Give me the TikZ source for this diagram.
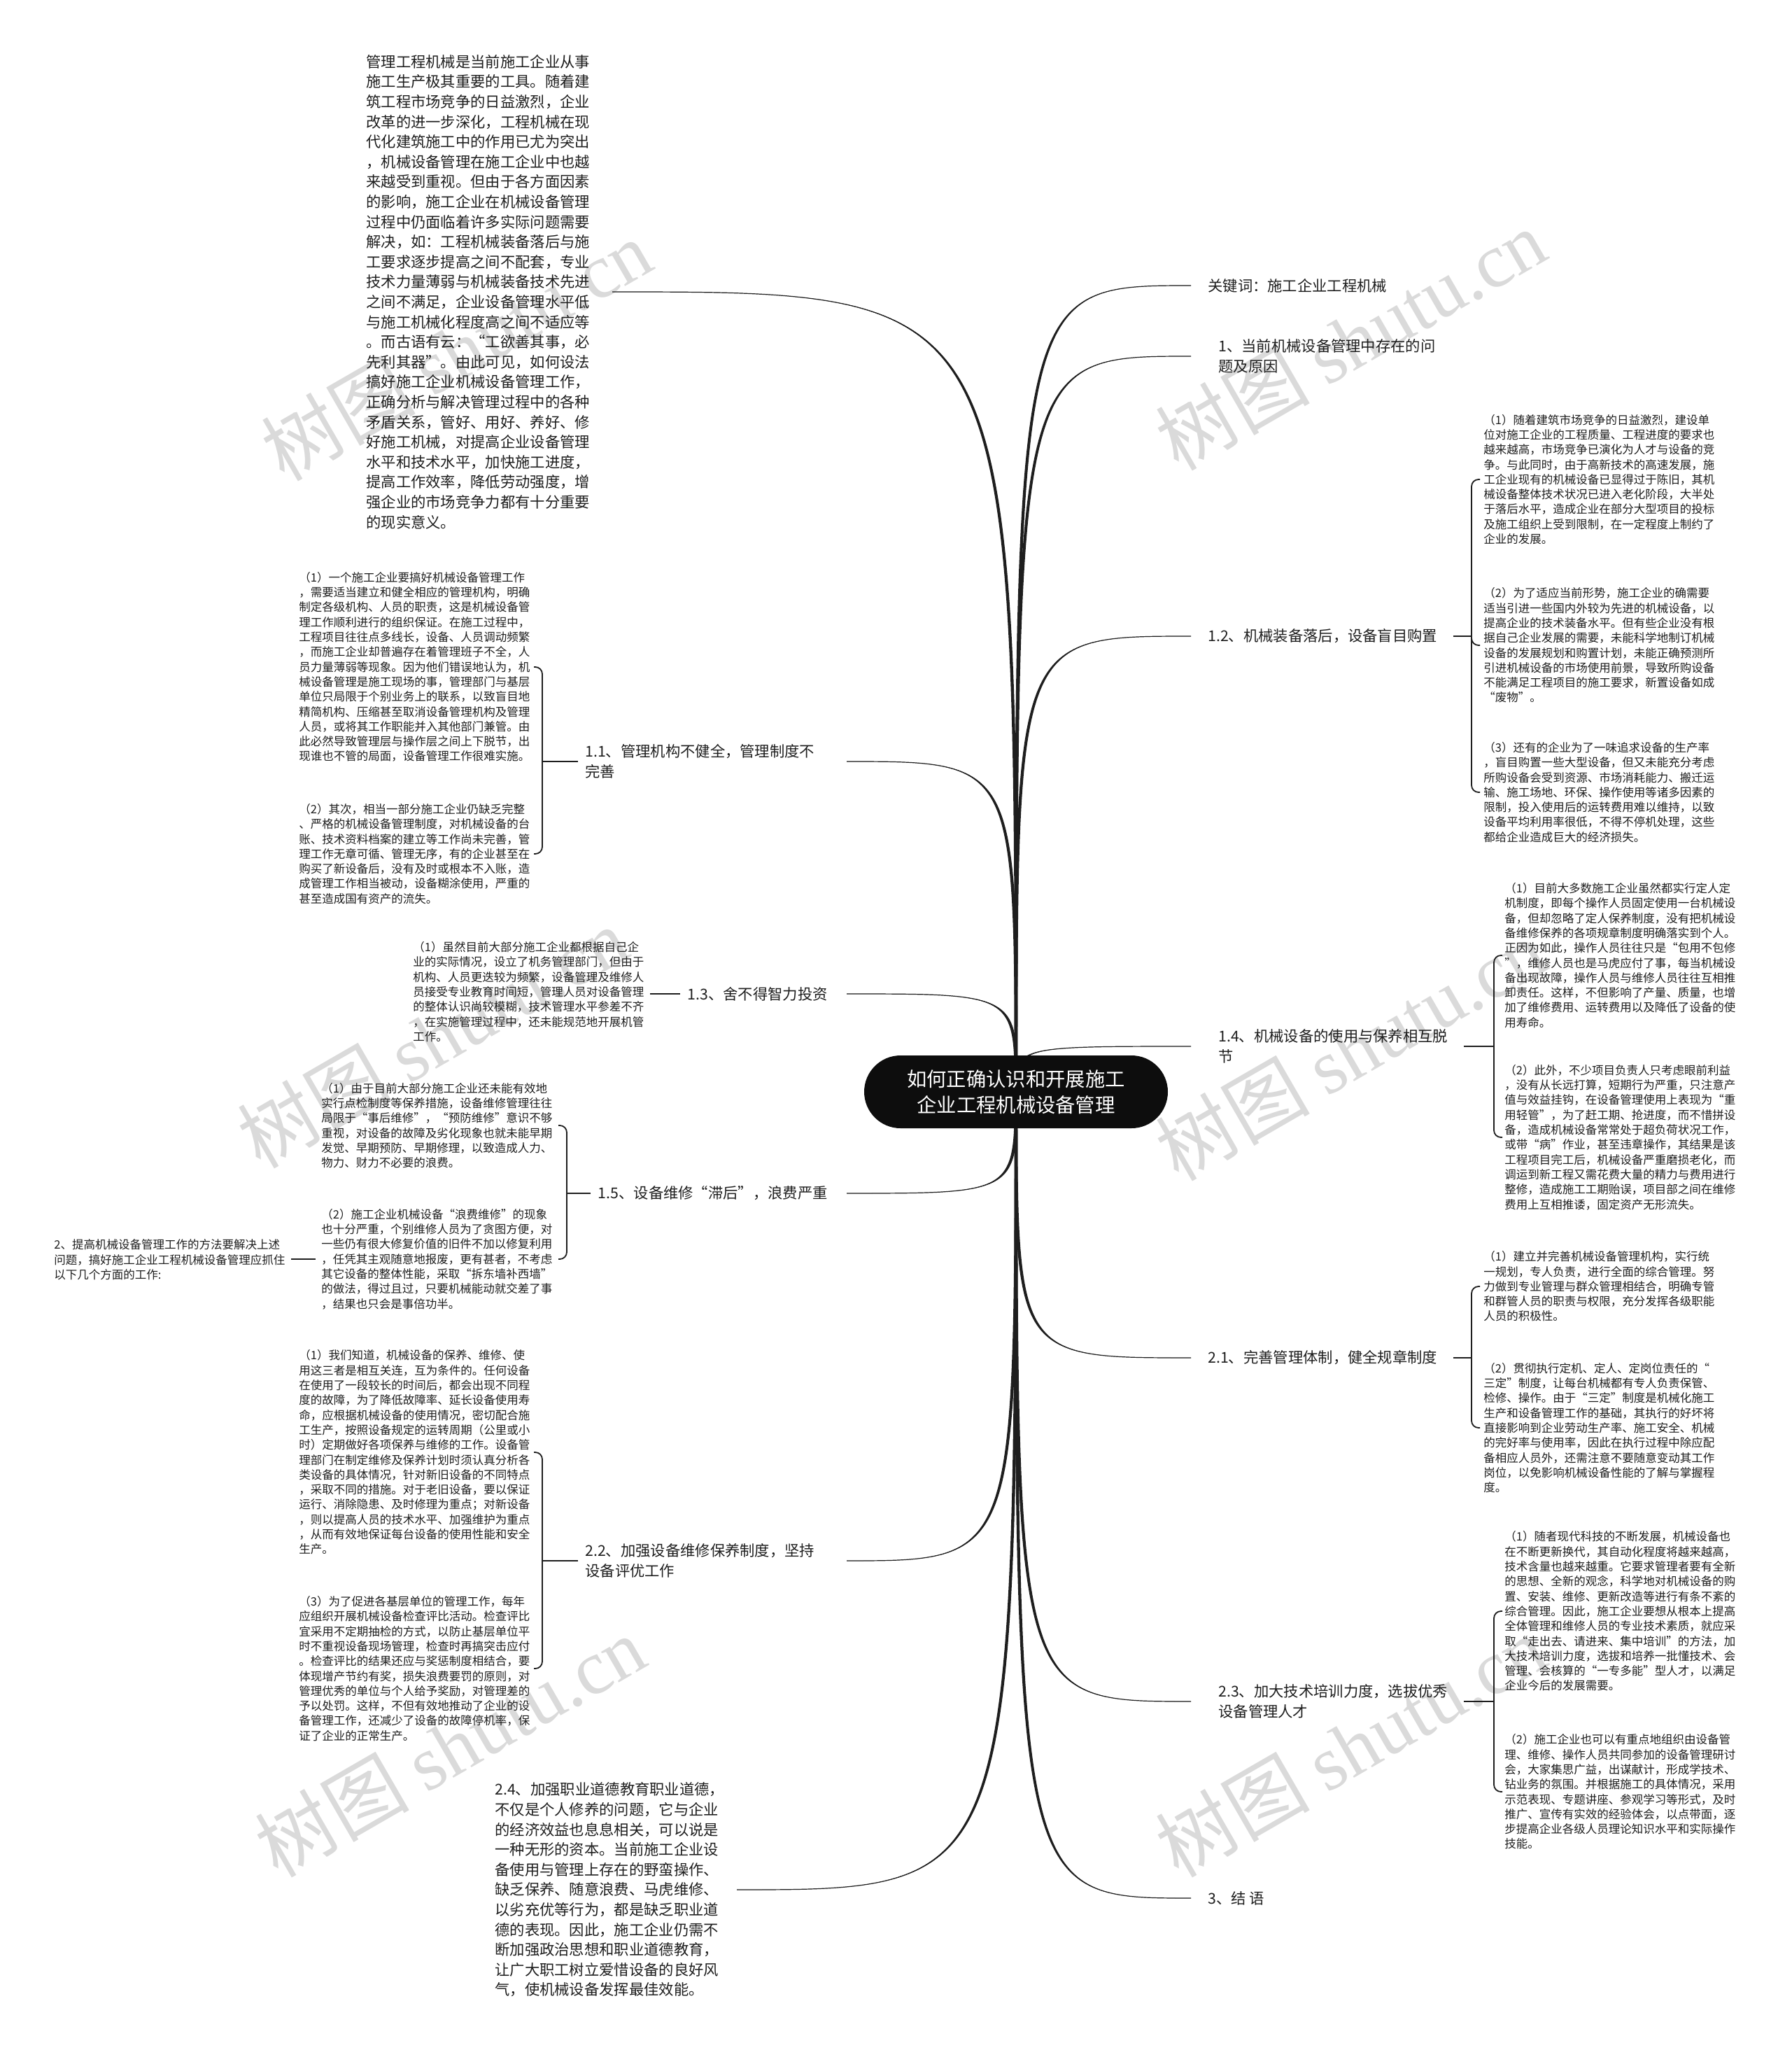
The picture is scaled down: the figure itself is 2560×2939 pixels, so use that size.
\documentclass[tikz,border=0pt]{standalone}
\usepackage{fontspec}
\setmainfont{Noto Sans CJK SC}
\newfontfamily\wmlatin{Liberation Serif}
\usetikzlibrary{calc, positioning}
\definecolor{ink}{RGB}{30,30,30}
\definecolor{wmgray}{RGB}{218,218,218}

% tapered connector from the hub to a branch end
\newcommand\limb[2]{%
  \fill[ink] let \p1=(#1), \p2=(#2) in
    (\x1-1.1pt,\y1) .. controls (\x1-1.1pt,\y2) and (\x1-1.1pt,\y2) .. (\x2,\y2)
    .. controls (\x1+1.1pt,\y2) and (\x1+1.1pt,\y2) .. (\x1+1.1pt,\y1) -- cycle;
  \draw[ink, line width=0.6pt] let \p1=(#1), \p2=(#2) in
    (\p1) .. controls (\x1,\y2) and (\x1,\y2) .. (\p2);
}

\begin{document}
\begin{tikzpicture}[x=0.5pt, y=-0.5pt,
    para/.style={font=\fontsize{10.65}{14.3}\selectfont, text=ink, align=left, inner sep=0pt, anchor=west},
    twig/.style={para},
    leaf/.style={font=\fontsize{8.25}{10.65}\selectfont, text=ink, align=left, inner sep=0pt, anchor=west},
    hubnode/.style={fill=black!95, text=white, rounded corners=26pt, minimum width=217pt, minimum height=52pt, align=center, inner sep=0pt, font=\fontsize{14.15}{18.3}\selectfont},
    brace/.style={draw=ink, line width=0.9pt, rounded corners=5pt},
    wmark/.style={text=wmgray, rotate=30, inner sep=0pt, font=\fontsize{55}{55}\selectfont}
]
    % Canvas
    \useasboundingbox[fill=white] (0,0) rectangle (2560,2939);

    % Watermarks
    \foreach \wx/\wy in {652/500, 1930/485, 618/1482, 1930/1500, 643/2495, 1930/2495} {
        \node[wmark] (wm-\wx-\wy) at (\wx,\wy) {树图 {\wmlatin shutu.cn}};
    }

    % Hub and branch ends
    \coordinate (hub) at (1452,1560);
    \coordinate (e-top) at (875,417);
    \coordinate (e-kw) at (1702,408);
    \coordinate (e-1) at (1702,509);
    \coordinate (e-12) at (1702,909);
    \coordinate (e-11) at (1210,1088);
    \coordinate (e-13) at (1210,1420);
    \coordinate (e-14) at (1702,1495);
    \coordinate (e-15) at (1210,1705);
    \coordinate (e-21) at (1702,1940);
    \coordinate (e-22) at (1210,2230);
    \coordinate (e-23) at (1702,2431);
    \coordinate (e-24) at (1053,2700);
    \coordinate (e-3) at (1702,2712);

    % Main connectors
    \foreach \e in {e-top,e-kw,e-1,e-12,e-11,e-13,e-14,e-15,e-21,e-22,e-23,e-24,e-3} {
        \limb{hub}{\e}
    }

    % Central topic
    \node[hubnode] (root) at (hub) {如何正确认识和开展施工\\企业工程机械设备管理};

    % Intro paragraph
    \node[para] (intro) at (523,417) {管理工程机械是当前施工企业从事\\
施工生产极其重要的工具。随着建\\
筑工程市场竞争的日益激烈，企业\\
改革的进一步深化，工程机械在现\\
代化建筑施工中的作用已尤为突出\\
，机械设备管理在施工企业中也越\\
来越受到重视。但由于各方面因素\\
的影响，施工企业在机械设备管理\\
过程中仍面临着许多实际问题需要\\
解决，如：工程机械装备落后与施\\
工要求逐步提高之间不配套，专业\\
技术力量薄弱与机械装备技术先进\\
之间不满足，企业设备管理水平低\\
与施工机械化程度高之间不适应等\\
。而古语有云：“工欲善其事，必\\
先利其器”。由此可见，如何设法\\
搞好施工企业机械设备管理工作，\\
正确分析与解决管理过程中的各种\\
矛盾关系，管好、用好、养好、修\\
好施工机械，对提高企业设备管理\\
水平和技术水平，加快施工进度，\\
提高工作效率，降低劳动强度，增\\
强企业的市场竞争力都有十分重要\\
的现实意义。};

    % Right branches
    \node[twig] (kw) at (1726,408) {关键词：施工企业工程机械};
    \node[twig] (l1) at (1741,509) {1、当前机械设备管理中存在的问\\题及原因};
    \node[twig] (l12) at (1726,909) {1.2、机械装备落后，设备盲目购置};
    \node[twig] (l14) at (1741,1495) {1.4、机械设备的使用与保养相互脱\\节};
    \node[twig] (l21) at (1726,1940) {2.1、完善管理体制，健全规章制度};
    \node[twig] (l23) at (1741,2431) {2.3、加大技术培训力度，选拔优秀\\设备管理人才};
    \node[twig] (l3) at (1726,2712) {3、结 语};

    % Left branches
    \node[twig] (l11) at (836,1088) {1.1、管理机构不健全，管理制度不\\完善};
    \node[twig, anchor=east] (l13) at (1183,1420) {1.3、舍不得智力投资};
    \node[twig, anchor=east] (l15) at (1183,1705) {1.5、设备维修“滞后”，浪费严重};
    \node[twig] (l22) at (836,2230) {2.2、加强设备维修保养制度，坚持\\设备评优工作};
    \node[para] (l24) at (707,2700) {2.4、加强职业道德教育职业道德，\\
不仅是个人修养的问题，它与企业\\
的经济效益也息息相关，可以说是\\
一种无形的资本。当前施工企业设\\
备使用与管理上存在的野蛮操作、\\
缺乏保养、随意浪费、马虎维修、\\
以劣充优等行为，都是缺乏职业道\\
德的表现。因此，施工企业仍需不\\
断加强政治思想和职业道德教育，\\
让广大职工树立爱惜设备的良好风\\
气，使机械设备发挥最佳效能。};

    % 1.2 details
    \node[leaf] (c12a) at (2120,685) {（1）随着建筑市场竞争的日益激烈，建设单\\
位对施工企业的工程质量、工程进度的要求也\\
越来越高，市场竞争已演化为人才与设备的竞\\
争。与此同时，由于高新技术的高速发展，施\\
工企业现有的机械设备已显得过于陈旧，其机\\
械设备整体技术状况已进入老化阶段，大半处\\
于落后水平，造成企业在部分大型项目的投标\\
及施工组织上受到限制，在一定程度上制约了\\
企业的发展。};
    \node[leaf] (c12b) at (2120,922) {（2）为了适应当前形势，施工企业的确需要\\
适当引进一些国内外较为先进的机械设备，以\\
提高企业的技术装备水平。但有些企业没有根\\
据自己企业发展的需要，未能科学地制订机械\\
设备的发展规划和购置计划，未能正确预测所\\
引进机械设备的市场使用前景，导致所购设备\\
不能满足工程项目的施工要求，新置设备如成\\
“废物”。};
    \node[leaf] (c12c) at (2120,1132) {（3）还有的企业为了一味追求设备的生产率\\
，盲目购置一些大型设备，但又未能充分考虑\\
所购设备会受到资源、市场消耗能力、搬迁运\\
输、施工场地、环保、操作使用等诸多因素的\\
限制，投入使用后的运转费用难以维持，以致\\
设备平均利用率很低，不得不停机处理，这些\\
都给企业造成巨大的经济损失。};

    % 1.4 details
    \node[leaf] (c14a) at (2150,1365) {（1）目前大多数施工企业虽然都实行定人定\\
机制度，即每个操作人员固定使用一台机械设\\
备，但却忽略了定人保养制度，没有把机械设\\
备维修保养的各项规章制度明确落实到个人。\\
正因为如此，操作人员往往只是“包用不包修\\
”，维修人员也是马虎应付了事，每当机械设\\
备出现故障，操作人员与维修人员往往互相推\\
卸责任。这样，不但影响了产量、质量，也增\\
加了维修费用、运转费用以及降低了设备的使\\
用寿命。};
    \node[leaf] (c14b) at (2150,1625) {（2）此外，不少项目负责人只考虑眼前利益\\
，没有从长远打算，短期行为严重，只注意产\\
值与效益挂钩，在设备管理使用上表现为“重\\
用轻管”，为了赶工期、抢进度，而不惜拼设\\
备，造成机械设备常常处于超负荷状况工作，\\
或带“病”作业，甚至违章操作，其结果是该\\
工程项目完工后，机械设备严重磨损老化，而\\
调运到新工程又需花费大量的精力与费用进行\\
整修，造成施工工期贻误，项目部之间在维修\\
费用上互相推诿，固定资产无形流失。};

    % 2.1 details
    \node[leaf] (c21a) at (2120,1838) {（1）建立并完善机械设备管理机构，实行统\\
一规划，专人负责，进行全面的综合管理。努\\
力做到专业管理与群众管理相结合，明确专管\\
和群管人员的职责与权限，充分发挥各级职能\\
人员的积极性。};
    \node[leaf] (c21b) at (2120,2040) {（2）贯彻执行定机、定人、定岗位责任的“\\
三定”制度，让每台机械都有专人负责保管、\\
检修、操作。由于“三定”制度是机械化施工\\
生产和设备管理工作的基础，其执行的好坏将\\
直接影响到企业劳动生产率、施工安全、机械\\
的完好率与使用率，因此在执行过程中除应配\\
备相应人员外，还需注意不要随意变动其工作\\
岗位，以免影响机械设备性能的了解与掌握程\\
度。};

    % 2.3 details
    \node[leaf] (c23a) at (2150,2302) {（1）随者现代科技的不断发展，机械设备也\\
在不断更新换代，其自动化程度将越来越高，\\
技术含量也越来越重。它要求管理者要有全新\\
的思想、全新的观念，科学地对机械设备的购\\
置、安装、维修、更新改造等进行有条不紊的\\
综合管理。因此，施工企业要想从根本上提高\\
全体管理和维修人员的专业技术素质，就应采\\
取“走出去、请进来、集中培训”的方法，加\\
大技术培训力度，选拔和培养一批懂技术、会\\
管理、会核算的“一专多能”型人才，以满足\\
企业今后的发展需要。};
    \node[leaf] (c23b) at (2150,2560) {（2）施工企业也可以有重点地组织由设备管\\
理、维修、操作人员共同参加的设备管理研讨\\
会，大家集思广益，出谋献计，形成学技术、\\
钻业务的氛围。并根据施工的具体情况，采用\\
示范表现、专题讲座、参观学习等形式，及时\\
推广、宣传有实效的经验体会，以点带面，逐\\
步提高企业各级人员理论知识水平和实际操作\\
技能。};

    % 1.1 details
    \node[leaf] (c11a) at (427,953) {（1）一个施工企业要搞好机械设备管理工作\\
，需要适当建立和健全相应的管理机构，明确\\
制定各级机构、人员的职责，这是机械设备管\\
理工作顺利进行的组织保证。在施工过程中，\\
工程项目往往点多线长，设备、人员调动频繁\\
，而施工企业却普遍存在着管理班子不全，人\\
员力量薄弱等现象。因为他们错误地认为，机\\
械设备管理是施工现场的事，管理部门与基层\\
单位只局限于个别业务上的联系，以致盲目地\\
精简机构、压缩甚至取消设备管理机构及管理\\
人员，或将其工作职能并入其他部门兼管。由\\
此必然导致管理层与操作层之间上下脱节，出\\
现谁也不管的局面，设备管理工作很难实施。};
    \node[leaf] (c11b) at (427,1220) {（2）其次，相当一部分施工企业仍缺乏完整\\
、严格的机械设备管理制度，对机械设备的台\\
账、技术资料档案的建立等工作尚未完善，管\\
理工作无章可循、管理无序，有的企业甚至在\\
购买了新设备后，没有及时或根本不入账，造\\
成管理工作相当被动，设备糊涂使用，严重的\\
甚至造成国有资产的流失。};

    % 1.3 detail
    \node[leaf] (c13a) at (590,1417) {（1）虽然目前大部分施工企业都根据自己企\\
业的实际情况，设立了机务管理部门，但由于\\
机构、人员更迭较为频繁，设备管理及维修人\\
员接受专业教育时间短，管理人员对设备管理\\
的整体认识尚较模糊，技术管理水平参差不齐\\
，在实施管理过程中，还未能规范地开展机管\\
工作。};

    % 1.5 details
    \node[leaf] (c15a) at (459,1608) {（1）由于目前大部分施工企业还未能有效地\\
实行点检制度等保养措施，设备维修管理往往\\
局限于“事后维修”，“预防维修”意识不够\\
重视，对设备的故障及劣化现象也就未能早期\\
发觉、早期预防、早期修理，以致造成人力、\\
物力、财力不必要的浪费。};
    \node[leaf] (c15b) at (459,1799) {（2）施工企业机械设备“浪费维修”的现象\\
也十分严重，个别维修人员为了贪图方便，对\\
一些仍有很大修复价值的旧件不加以修复利用\\
，任凭其主观随意地报废，更有甚者，不考虑\\
其它设备的整体性能，采取“拆东墙补西墙”\\
的做法，得过且过，只要机械能动就交差了事\\
，结果也只会是事倍功半。};
    \node[leaf] (n2) at (77,1800) {2、提高机械设备管理工作的方法要解决上述\\
问题，搞好施工企业工程机械设备管理应抓住\\
以下几个方面的工作:};

    % 2.2 details
    \node[leaf] (c22a) at (427,2075) {（1）我们知道，机械设备的保养、维修、使\\
用这三者是相互关连，互为条件的。任何设备\\
在使用了一段较长的时间后，都会出现不同程\\
度的故障，为了降低故障率、延长设备使用寿\\
命，应根据机械设备的使用情况，密切配合施\\
工生产，按照设备规定的运转周期（公里或小\\
时）定期做好各项保养与维修的工作。设备管\\
理部门在制定维修及保养计划时须认真分析各\\
类设备的具体情况，针对新旧设备的不同特点\\
，采取不同的措施。对于老旧设备，要以保证\\
运行、消除隐患、及时修理为重点；对新设备\\
，则以提高人员的技术水平、加强维护为重点\\
，从而有效地保证每台设备的使用性能和安全\\
生产。};
    \node[leaf] (c22b) at (427,2384) {（3）为了促进各基层单位的管理工作，每年\\
应组织开展机械设备检查评比活动。检查评比\\
宜采用不定期抽检的方式，以防止基层单位平\\
时不重视设备现场管理，检查时再搞突击应付\\
。检查评比的结果还应与奖惩制度相结合，要\\
体现增产节约有奖，损失浪费要罚的原则，对\\
管理优秀的单位与个人给予奖励，对管理差的\\
予以处罚。这样，不但有效地推动了企业的设\\
备管理工作，还减少了设备的故障停机率，保\\
证了企业的正常生产。};

    % Brace joints
    \coordinate (b12) at (2103,909);
    \coordinate (b14) at (2135,1495);
    \coordinate (b21) at (2103,1940);
    \coordinate (b23) at (2135,2431);
    \coordinate (b11) at (775,1088);
    \coordinate (b15) at (810,1705);
    \coordinate (b22) at (775,2230);

    % Right braces
    \foreach \l/\b in {l12/b12, l14/b14, l21/b21, l23/b23} {
        \draw[brace] ($(\l.east)+(22,0)$) -- (\b);
    }
    \foreach \c in {c12a,c12b,c12c} \draw[brace] (b12) |- ($(\c.west -| b12)+(12,0)$);
    \foreach \c in {c14a,c14b} \draw[brace] (b14) |- ($(\c.west -| b14)+(12,0)$);
    \foreach \c in {c21a,c21b} \draw[brace] (b21) |- ($(\c.west -| b21)+(12,0)$);
    \foreach \c in {c23a,c23b} \draw[brace] (b23) |- ($(\c.west -| b23)+(12,0)$);

    % Left braces
    \foreach \l/\b in {l11/b11, l15/b15, l22/b22} {
        \draw[brace] ($(\l.west)+(-10,0)$) -- (\b);
    }
    \foreach \c in {c11a,c11b} \draw[brace] (b11) |- ($(\c.west -| b11)+(-12,0)$);
    \foreach \c in {c15a,c15b} \draw[brace] (b15) |- ($(\c.west -| b15)+(-12,0)$);
    \foreach \c in {c22a,c22b} \draw[brace] (b22) |- ($(\c.west -| b22)+(-12,0)$);

    % Single links
    \draw[brace] ($(l13.west)+(-10,0)$) -- ($(l13.west -| c13a.east)+(8,0)$);
    \draw[brace] ($(c15b.west)+(-8,0)$) -- ($(c15b.west -| n2.east)+(8,0)$);

\end{tikzpicture}
\end{document}
